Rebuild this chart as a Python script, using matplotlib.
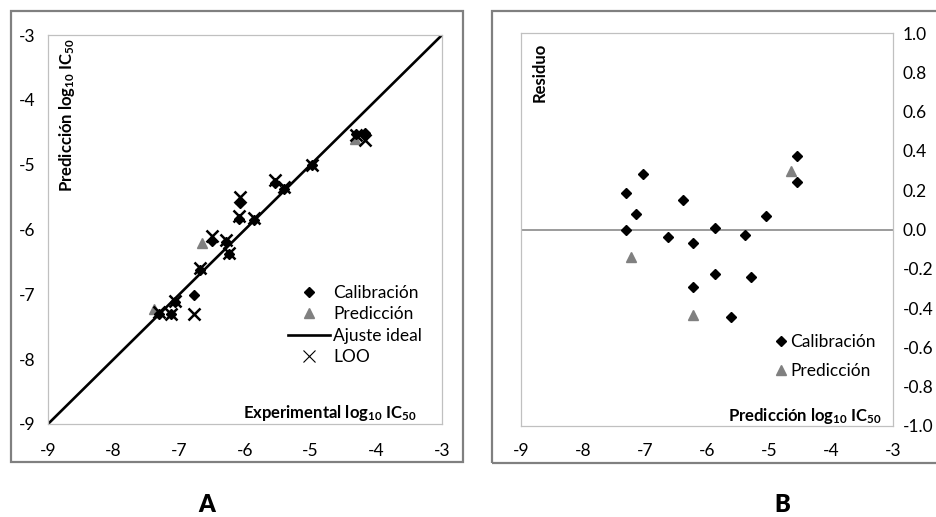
import matplotlib
matplotlib.use("Agg")
import matplotlib.pyplot as plt
from matplotlib.patches import Rectangle
from matplotlib.lines import Line2D
from matplotlib.ticker import FormatStrFormatter

plt.rcParams["font.family"] = ["Lato", "DejaVu Sans"]
plt.rcParams["axes.unicode_minus"] = False
plt.rcParams["mathtext.fontset"] = "custom"
plt.rcParams["mathtext.bf"] = "Lato:bold"
plt.rcParams["mathtext.rm"] = "Lato"
plt.rcParams["mathtext.default"] = "bf"

# --- panel A: experimental vs predicted log10 IC50 ---
cal_exp = [-7.12, -6.77, -7.07, -7.31, -6.68, -6.25, -6.29, -5.87,
           -5.41, -4.98, -4.18, -4.31, -6.09, -6.51, -5.54, -6.08]
cal_pred = [-7.31, -7.01, -7.12, -7.30, -6.62, -6.38, -6.20, -5.86,
            -5.37, -5.01, -4.51, -4.52, -5.84, -6.18, -5.29, -5.59]
loo_pred = [-7.30, -7.30, -7.10, -7.27, -6.59, -6.36, -6.16, -5.83,
            -5.34, -5.00, -4.62, -4.54, -5.79, -6.10, -5.24, -5.50]
pre_exp = [-7.38, -6.66, -4.33]
pre_pred = [-7.22, -6.21, -4.61]
ideal = [-9, -3]

# --- panel B: residuals vs predicted ---
res_cal_x = [-7.31, -7.04, -7.14, -7.31, -6.63, -6.39, -6.22, -5.87,
             -5.38, -5.05, -4.55, -4.55, -5.87, -6.22, -5.29, -5.62]
res_cal_y = [0.187, 0.281, 0.079, 0.0, -0.040, 0.150, -0.067, 0.006,
             -0.026, 0.069, 0.372, 0.243, -0.225, -0.291, -0.243, -0.447]
res_pre_x = [-7.22, -6.22, -4.64]
res_pre_y = [-0.142, -0.435, 0.298]

W, H = 937, 517
fig = plt.figure(figsize=(W / 100, H / 100), dpi=100)

GRAY = "#808080"
BORDER = "#c0c0c0"
FS = 12.5     # tick / legend text
LFS = 12      # bold axis titles


def fx(px):
    return px / W


def fy(py):
    return 1 - py / H


def style(ax):
    for s in ax.spines.values():
        s.set_color(BORDER)
        s.set_linewidth(0.9)
    ax.tick_params(length=0, labelsize=FS, colors="black")


# outer chart frames
fig.patches.append(Rectangle((fx(11), fy(462)), (463 - 11) / W, (462 - 11) / H,
                             transform=fig.transFigure, fill=False, ec=GRAY, lw=1.6))
fig.patches.append(Rectangle((fx(492), fy(463)), (1000 - 492) / W, (463 - 11) / H,
                             transform=fig.transFigure, fill=False, ec=GRAY, lw=1.6))

# panel A
axA = fig.add_axes([fx(48), fy(424), (442 - 48) / W, (424 - 35) / H])
style(axA)
axA.plot(ideal, ideal, color="black", lw=1.9, zorder=2)
axA.plot(cal_exp, cal_pred, "D", color="black", ms=5.5, ls="none", zorder=3)
axA.plot(pre_exp, pre_pred, "^", color=GRAY, ms=7, ls="none", zorder=2.5)
axA.plot(cal_exp, loo_pred, "x", color="black", ms=8, mew=1.8, ls="none", zorder=4)
axA.set_xlim(-9, -3)
axA.set_ylim(-9, -3)
axA.set_xticks(range(-9, -2))
axA.set_yticks(range(-9, -2))
axA.tick_params(axis="x", pad=14)
axA.tick_params(axis="y", pad=9)
axA.text(0.048, 0.992, r"Predicción log$_{10}$ IC$_{50}$", transform=axA.transAxes,
         rotation=90, ha="center", va="top", fontsize=LFS, fontweight="bold")
axA.text(0.937, 0.028, r"Experimental log$_{10}$ IC$_{50}$", transform=axA.transAxes,
         ha="right", va="center", fontsize=LFS, fontweight="bold")
handles = [
    Line2D([], [], marker="D", color="black", ms=5.5, ls="none"),
    Line2D([], [], marker="^", color=GRAY, ms=7, ls="none"),
    Line2D([], [], color="black", lw=1.9),
    Line2D([], [], marker="x", color="black", ms=8, mew=0.8, ls="none"),
]
axA.legend(handles, ["Calibración", "Predicción", "Ajuste ideal", "LOO"],
           loc="upper left", bbox_to_anchor=(0.587, 0.379), frameon=False,
           fontsize=FS, handlelength=2.4, handletextpad=0.2, labelspacing=0.3,
           borderpad=0)

# panel B
axB = fig.add_axes([fx(521), fy(426), (893 - 521) / W, (426 - 33) / H])
style(axB)
axB.axhline(0, color=GRAY, lw=1.1, zorder=1)
axB.plot(res_cal_x, res_cal_y, "D", color="black", ms=5.5, ls="none", zorder=3,
         label="Calibración")
axB.plot(res_pre_x, res_pre_y, "^", color=GRAY, ms=7, ls="none", zorder=2.5,
         label="Predicción")
axB.set_xlim(-9, -3)
axB.set_ylim(-1, 1)
axB.set_xticks(range(-9, -2))
axB.set_yticks([i / 10 for i in range(-10, 11, 2)])
axB.yaxis.set_major_formatter(FormatStrFormatter("%.1f"))
axB.yaxis.tick_right()
axB.tick_params(axis="y", pad=7)
axB.tick_params(axis="x", pad=12)
for lab in axB.get_yticklabels():
    lab.set_horizontalalignment("left")
axB.text(0.051, 0.975, "Residuo", transform=axB.transAxes,
         rotation=90, ha="center", va="top", fontsize=LFS, fontweight="bold")
axB.text(0.970, 0.026, r"Predicción log$_{10}$ IC$_{50}$", transform=axB.transAxes,
         ha="right", va="center", fontsize=LFS, fontweight="bold")
axB.legend(loc="upper left", bbox_to_anchor=(0.66, 0.255), frameon=False,
           fontsize=FS, handlelength=0.7, handletextpad=0.15, labelspacing=0.7,
           borderpad=0, numpoints=1)

fig.text(fx(207), fy(505), "A", fontsize=17, fontweight="heavy", ha="center", va="center")
fig.text(fx(782), fy(505), "B", fontsize=17, fontweight="heavy", ha="center", va="center")

fig.savefig("out.png", dpi=100)
